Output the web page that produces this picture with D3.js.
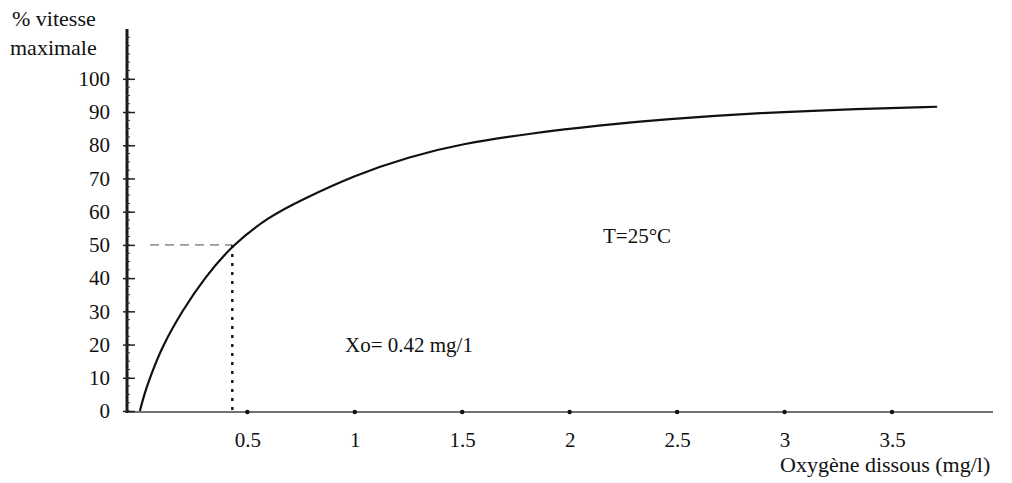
<!DOCTYPE html>
<html>
<head>
<meta charset="utf-8">
<script src="https://cdn.jsdelivr.net/npm/d3@7"></script>
<style>
  body { margin: 0; background: white; }
  svg text { font-family: "Liberation Serif", "DejaVu Serif", "Times New Roman", Times, serif !important; fill: #111; }
</style>
</head>
<body>
<svg id="chart"></svg>
<script>
// values
let oxygen  = [0, 0.02, 0.05, 0.10, 0.20, 0.30, 0.43, 0.60, 0.75, 1.00, 1.25, 1.50, 1.83, 2.14, 2.42, 2.89, 3.35, 3.71]
let vitesse = [0, 5, 10.5, 19, 30.5, 40, 50, 58.5, 63.5, 71, 76.5, 80.5, 83.7, 86, 87.7, 89.8, 91, 91.6]
let xTicks = [0.5, 1, 1.5, 2, 2.5, 3, 3.5]
let yTicks = [0, 10, 20, 30, 40, 50, 60, 70, 80, 90, 100]
let xo = 0.43      // where the dashed guide meets the curve
let xoLabel = "Xo= 0.42 mg/1"
let tempLabel = "T=25°C"

let width = 1012
let height = 483
let serif = "'Liberation Serif', 'DejaVu Serif', 'Times New Roman', serif"

let svg = d3.select("#chart")
    .attr("width", width)
    .attr("height", height)

let x = d3.scaleLinear().domain([-0.06, 3.97]).range([127, 993])
let y = d3.scaleLinear().domain([0, 115]).range([411, 29])

let data = oxygen.map((o, i) => ({x: o, y: vitesse[i]}))

// x axis: thin line with dot ticks
svg.append("line")
    .attr("x1", x.range()[0]).attr("x2", x.range()[1])
    .attr("y1", y(0) + 1).attr("y2", y(0) + 1)
    .attr("stroke", "#444")
    .attr("stroke-width", 1.6)

svg.selectAll(".xdot").data(xTicks).enter()
    .append("circle")
    .attr("cx", d => x(d))
    .attr("cy", y(0) + 1)
    .attr("r", 2.2)
    .attr("fill", "#111")

svg.append("g")
    .attr("transform", `translate(0,${y(0) + 1})`)
    .call(d3.axisBottom(x).tickValues(xTicks).tickSize(0).tickPadding(20).tickFormat(d => d))
    .call(g => g.select(".domain").remove())
    .call(g => g.attr("font-family", serif).attr("font-size", 21))
    .call(g => g.selectAll("text").attr("fill", "#111"))

// y axis: thick line, major + minor ticks
svg.append("line")
    .attr("x1", x(-0.06)).attr("x2", x(-0.06))
    .attr("y1", y(115)).attr("y2", y(0) + 2)
    .attr("stroke", "#1a1a1a")
    .attr("stroke-width", 3)

svg.selectAll(".ymin").data(d3.range(0, 115, 2.5)).enter()
    .append("line")
    .attr("x1", x(-0.06) - 1).attr("x2", x(-0.06) + 3)
    .attr("y1", d => y(d)).attr("y2", d => y(d))
    .attr("stroke", "#333")
    .attr("stroke-width", 1)

svg.append("g")
    .attr("transform", `translate(${x(-0.06)},0)`)
    .call(d3.axisLeft(y).tickValues(yTicks).tickSizeInner(-8).tickSizeOuter(0).tickPadding(17))
    .call(g => g.select(".domain").remove())
    .call(g => g.attr("font-family", serif).attr("font-size", 21))
    .call(g => g.selectAll(".tick line").attr("stroke", "#222").attr("stroke-width", 1.5).attr("x1", -4))
    .call(g => g.selectAll("text").attr("fill", "#111"))

// guides at 50 %
svg.append("line")
    .attr("x1", 150).attr("x2", x(xo))
    .attr("y1", y(50)).attr("y2", y(50))
    .attr("stroke", "#999")
    .attr("stroke-width", 1.6)
    .attr("stroke-dasharray", "9,6")

svg.append("line")
    .attr("x1", x(xo)).attr("x2", x(xo))
    .attr("y1", y(50)).attr("y2", y(0))
    .attr("stroke", "#111")
    .attr("stroke-width", 2.4)
    .attr("stroke-dasharray", "3,6")

// curve
let line = d3.line()
    .x(d => x(d.x))
    .y(d => y(d.y))
    .curve(d3.curveBasis)

svg.append("path")
    .datum(data)
    .attr("d", line)
    .attr("fill", "none")
    .attr("stroke", "#111")
    .attr("stroke-width", 2.2)

// texts
let labels = svg.append("g").attr("font-family", serif)
labels.append("text").attr("x", 12).attr("y", 26).attr("font-size", 22).text("% vitesse")
labels.append("text").attr("x", 10).attr("y", 55).attr("font-size", 22).text("maximale")
labels.append("text").attr("x", 780).attr("y", 472).attr("font-size", 22).text("Oxygène dissous (mg/l)")
labels.append("text").attr("x", 603).attr("y", 243).attr("font-size", 21).text(tempLabel)
labels.append("text").attr("x", 345).attr("y", 352).attr("font-size", 21).text(xoLabel)
</script>
</body>
</html>
